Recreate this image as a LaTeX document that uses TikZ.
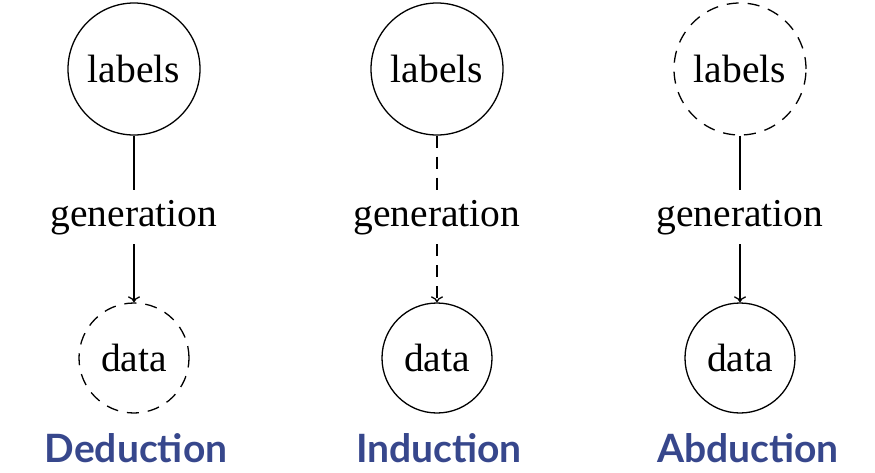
\documentclass[tikz,border=0pt]{standalone}
\usepackage{fontspec}
\usetikzlibrary{arrows.meta}
\setmainfont{Liberation Serif}
\newfontfamily\titlefont{Lato}
\definecolor{titleblue}{RGB}{55,71,140}
\begin{document}
\begin{tikzpicture}[x=1pt,y=-1pt,
  every node/.style={font=\fontsize{39.5}{46}\selectfont},
  lab/.style={circle,draw,line width=1.3pt,minimum size=132pt,inner sep=0pt},
  dat/.style={circle,draw,line width=1.3pt,minimum size=110pt,inner sep=0pt},
  gen/.style={text height=28pt,text depth=9pt,inner xsep=2pt,inner ysep=8.5pt},
  ttl/.style={font=\titlefont\bfseries\fontsize{39}{44}\selectfont,text=titleblue,inner sep=0pt,anchor=base},
  conn/.style={line width=1.3pt},
  dsh/.style={dash pattern=on 12pt off 9pt},
  arr/.style={conn,-{To[length=6pt,width=12pt]}}]
\useasboundingbox (0,0) rectangle (875,472);
% Deduction
\node[lab] (l1) at (134,69) {labels};
\node[gen] (g1) at (134,217) {generation};
\node[dat,dsh] (d1) at (134,358) {data};
\draw[conn] (l1) -- (g1);
\draw[arr] (g1) -- (d1);
\node[ttl] (t1) at (136,462) {Deduction};
% Induction
\node[lab] (l2) at (437,69) {labels};
\node[gen] (g2) at (437,217) {generation};
\node[dat] (d2) at (437,358) {data};
\draw[conn,dsh] (l2) -- (g2);
\draw[arr,dsh] (g2) -- (d2);
\node[ttl] (t2) at (439,462) {Induction};
% Abduction
\node[lab,dsh] (l3) at (740,69) {labels};
\node[gen] (g3) at (740,217) {generation};
\node[dat] (d3) at (740,358) {data};
\draw[conn] (l3) -- (g3);
\draw[arr] (g3) -- (d3);
\node[ttl] (t3) at (748,462) {Abduction};
\end{tikzpicture}
\end{document}
